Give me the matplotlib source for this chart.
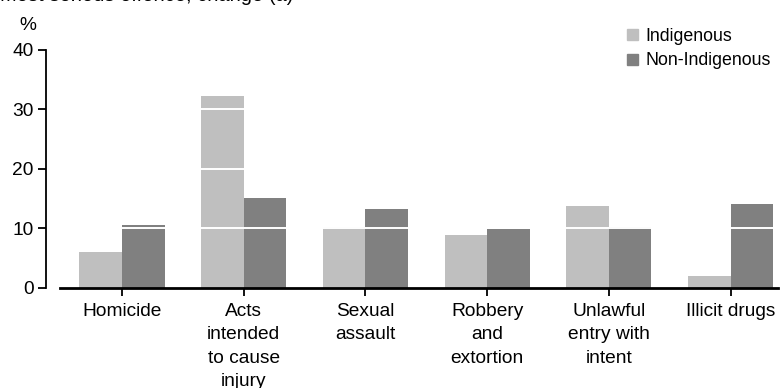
import numpy as np
import matplotlib
matplotlib.use("Agg")
import matplotlib.pyplot as plt
from matplotlib.patches import Patch

plt.rcParams['font.family'] = ['Liberation Sans', 'DejaVu Sans']

offences = ["Homicide", "Acts\nintended\nto cause\ninjury", "Sexual\nassault",
            "Robbery\nand\nextortion", "Unlawful\nentry with\nintent", "Illicit drugs"]
indigenous = [6.0, 32.2, 10.2, 8.8, 13.7, 2.0]
non_indigenous = [10.5, 15.1, 13.2, 9.9, 10.2, 14.1]
yticks = [0, 10, 20, 30, 40]

light = "#bfbfbf"
dark = "#808080"

fig = plt.figure(figsize=(7.8, 3.88), dpi=100)
ax = fig.add_axes([0.0769, 0.2585, 0.9205, 0.6139])

x = np.arange(len(offences))
w = 0.35
ax.bar(x - w / 2, indigenous, w, color=light, zorder=2)
ax.bar(x + w / 2, non_indigenous, w, color=dark, zorder=2)

# white gridlines sit on top of the bars
for y in yticks[1:-1]:
    ax.axhline(y, color="white", lw=1.4, zorder=3)

ax.set_ylim(0, 40)
ax.set_xlim(-0.51, 5.39)
ax.set_yticks(yticks)
ax.set_xticks(x)
ax.set_xticklabels(offences, fontsize=13.8, linespacing=1.5)
ax.tick_params(axis="y", labelsize=13.8, length=6, width=1.3, pad=3)
ax.tick_params(axis="x", length=6, width=1.3, pad=5)

for s in ["top", "right"]:
    ax.spines[s].set_visible(False)
ax.spines["left"].set_position(("outward", 10))
ax.spines["left"].set_linewidth(1.3)
ax.spines["bottom"].set_linewidth(2)

fig.text(28 / 780, 1 - 25 / 388, "%", fontsize=13.8, ha="center", va="center")
fig.text(0.0, 1 - 1 / 388, "Most serious offence, change (a)", fontsize=14.5,
         ha="left", va="baseline")

handles = [Patch(color=light, label="Indigenous"), Patch(color=dark, label="Non-Indigenous")]
fig.legend(handles=handles, loc="upper left", bbox_to_anchor=(627 / 780, 1 - 28 / 388),
           frameon=False, fontsize=12.8, handlelength=0.6, handleheight=0.6,
           handletextpad=0.45, labelspacing=0.42, borderpad=0, borderaxespad=0)

fig.savefig("out.png", dpi=100)
